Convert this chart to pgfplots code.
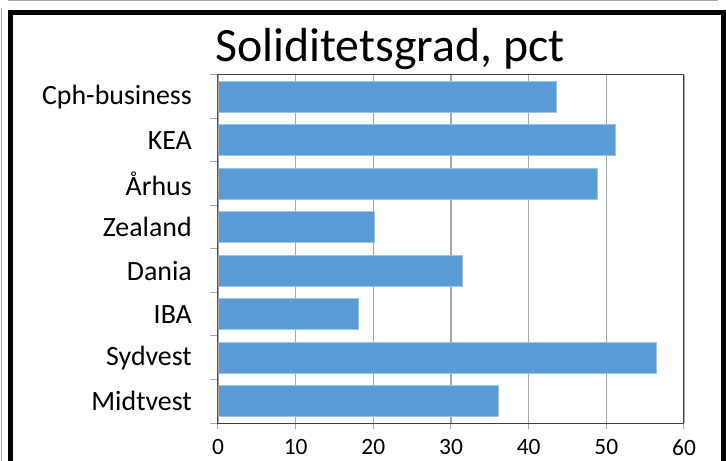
\documentclass[border=0pt]{standalone}
\usepackage{pgfplots}
\pgfplotsset{compat=1.18}
\usepackage{fontspec}
\setmainfont{Carlito}
\definecolor{barblue}{RGB}{91,155,213}
\definecolor{gridgray}{RGB}{166,166,166}
\definecolor{axisdark}{RGB}{64,64,64}

\begin{document}
\begin{tikzpicture}
\useasboundingbox (-218bp,-38bp) rectangle (508bp,423bp);
\begin{axis}[
  at={(0,0)}, anchor=south west,
  scale only axis, width=466bp, height=348bp,
  xbar, bar width=31bp,
  xmin=0, xmax=60, ymin=-0.5, ymax=7.5,
  xtick={0,10,...,60},
  ytick={0,...,7},
  yticklabels={Midtvest,Sydvest,IBA,Dania,Zealand,Århus,KEA,Cph-business},
  minor ytick={-0.5,0.5,...,7.5},
  major y tick style={draw=none},
  minor tick length=8bp, major tick length=6bp,
  tick align=outside, xtick pos=bottom, ytick pos=left,
  xmajorgrids, grid style={gridgray, line width=1.2bp},
  axis line style={axisdark, line width=1bp},
  tick style={gridgray, line width=1bp},
  /pgf/number format/assume math mode=true,
  yticklabel style={font=\fontsize{28}{28}\selectfont, inner sep=0pt, xshift=-20bp},
  xticklabel style={font=\fontsize{23.5}{23.5}\selectfont, inner sep=0pt, yshift=-10bp},
]
\addplot[fill=barblue, draw=barblue!60!white, line width=0.8bp] coordinates {
  (36.1,0) (56.5,1) (18.1,2) (31.5,3) (20.1,4) (48.9,5) (51.2,6) (43.6,7)};
\draw[gridgray, line width=1.2bp] (axis cs:0,-0.5) -- (axis cs:0,7.5);
\end{axis}
\node[anchor=base, font=\fontsize{48}{48}\selectfont, inner sep=0pt] at (172bp,361bp) {Soliditetsgrad, pct};
% frame
\draw[black, line width=5bp] (-207.5bp,-60bp) -- (-207.5bp,410.5bp) -- (505.5bp,410.5bp) -- (505.5bp,-60bp);
\draw[gridgray, line width=1bp] (-210bp,422.5bp) -- (500bp,422.5bp);
\draw[gridgray, line width=1bp] (-216.5bp,415bp) -- (-216.5bp,-60bp);
\end{tikzpicture}
\end{document}
